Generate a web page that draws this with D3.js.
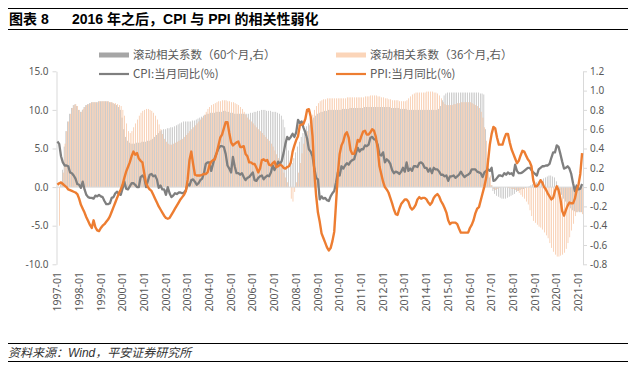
<!DOCTYPE html>
<html>
<head>
<meta charset="utf-8">
<script src="https://cdn.jsdelivr.net/npm/d3@7"></script>
<style>
  body { margin: 0; background: #fff; }
  svg { display: block; }
</style>
</head>
<body>
<div id="chart"></div>
<script>
// monthly series, 1997-01 .. 2021-03
var startYear = 1997;

var cpi = [
  5.9, 5.6, 4.0, 3.2, 2.8, 2.8, 2.7, 1.9, 1.8, 1.5, 1.1, 0.4,
  0.3, -0.1, 0.7, -0.3, -1.0, -1.3, -1.4, -1.4, -1.5, -1.1, -1.2, -1.0,
  -1.2, -1.3, -1.8, -2.2, -2.2, -2.1, -1.4, -1.3, -0.8, -0.6, -0.9, -1.0,
  -0.2, 0.7, -0.2, -0.3, 0.1, 0.5, 0.5, 0.3, 0.0, 0.0, 1.3, 1.5,
  1.2, 0.0, 0.8, 1.6, 1.7, 1.4, 1.5, 1.0, -0.1, 0.2, -0.3, -0.3,
  -1.0, 0.0, -0.8, -1.3, -1.1, -0.8, -0.9, -0.7, -0.7, -0.8, -0.7, -0.4,
  0.4, 0.2, 0.9, 1.0, 0.7, 0.3, 0.5, 0.9, 1.1, 1.8, 3.0, 3.2,
  3.2, 2.1, 3.0, 3.8, 4.4, 5.0, 5.3, 5.3, 5.2, 4.3, 2.8, 2.4,
  1.9, 3.9, 2.7, 1.8, 1.8, 1.6, 1.8, 1.3, 0.9, 1.2, 1.3, 1.6,
  1.9, 0.9, 0.8, 1.2, 1.4, 1.5, 1.0, 1.3, 1.5, 1.4, 1.9, 2.8,
  2.2, 2.7, 3.3, 3.0, 3.4, 4.4, 5.6, 6.5, 6.2, 6.5, 6.9, 6.5,
  7.1, 8.7, 8.3, 8.5, 7.7, 7.1, 6.3, 4.9, 4.6, 4.0, 2.4, 1.2,
  1.0, -1.6, -1.2, -1.5, -1.4, -1.7, -1.8, -1.2, -0.8, -0.5, 0.6, 1.9,
  1.5, 2.7, 2.4, 2.8, 3.1, 2.9, 3.3, 3.5, 3.6, 4.4, 5.1, 4.6,
  4.9, 4.9, 5.4, 5.3, 5.5, 6.4, 6.5, 6.2, 6.1, 5.5, 4.2, 4.1,
  4.5, 3.2, 3.6, 3.4, 3.0, 2.2, 1.8, 2.0, 1.9, 1.7, 2.0, 2.5,
  2.0, 3.2, 2.1, 2.4, 2.1, 2.7, 2.7, 2.6, 3.1, 3.2, 3.0, 2.5,
  2.5, 2.0, 2.4, 1.8, 2.5, 2.3, 2.3, 2.0, 1.6, 1.6, 1.4, 1.5,
  0.8, 1.4, 1.4, 1.5, 1.2, 1.4, 1.6, 2.0, 1.6, 1.3, 1.5, 1.6,
  1.8, 2.3, 2.3, 2.3, 2.0, 1.9, 1.8, 1.3, 1.9, 2.1, 2.3, 2.1,
  2.5, 0.8, 0.9, 1.2, 1.5, 1.5, 1.4, 1.8, 1.6, 1.9, 1.7, 1.8,
  1.5, 2.9, 2.1, 1.8, 1.8, 1.9, 2.1, 2.3, 2.5, 2.5, 2.2, 1.9,
  1.7, 1.5, 2.3, 2.5, 2.7, 2.7, 2.8, 2.8, 3.0, 3.8, 4.5, 4.5,
  5.4, 5.2, 4.3, 3.3, 2.4, 2.5, 2.7, 2.4, 1.7, 0.5, -0.5, 0.2,
  -0.3, -0.2, 0.4
];

var ppi = [
  0.3, 0.5, 0.6, 0.4, 0.2, 0.0, -0.3, -0.4, -0.5, -0.6, -0.7, -0.9,
  -1.5, -2.3, -2.8, -3.3, -3.9, -4.4, -4.9, -5.3, -4.3, -5.2, -5.6, -5.7,
  -5.3, -5.0, -4.8, -4.5, -4.2, -3.8, -3.2, -2.6, -2.0, -1.4, -0.8, -0.3,
  0.3, 1.2, 2.0, 2.6, 3.2, 4.0, 4.6, 4.2, 4.4, 3.7, 3.4, 3.2,
  1.8, 0.5, 0.0, -0.3, -0.5, -1.0, -1.5, -2.0, -2.5, -2.9, -3.3, -3.7,
  -4.0, -4.1, -4.0, -3.6, -3.2, -2.8, -2.4, -2.0, -1.6, -1.3, -1.0, -0.5,
  1.0, 3.5, 4.6, 3.0, 1.6, 1.5, 1.5, 1.5, 1.6, 1.7, 1.7, 1.9,
  2.8, 3.3, 3.5, 3.6, 4.4, 5.4, 6.4, 6.8, 7.6, 8.4, 8.4, 7.0,
  5.8, 5.4, 5.6, 5.8, 5.9, 5.2, 5.2, 5.3, 4.3, 4.0, 3.2, 3.2,
  3.0, 3.0, 2.5, 1.9, 2.4, 3.5, 3.6, 3.4, 3.5, 2.9, 2.8, 3.1,
  3.3, 2.6, 2.7, 2.9, 2.8, 2.5, 2.4, 2.6, 2.7, 3.2, 4.6, 5.4,
  6.1, 6.6, 8.0, 8.1, 8.2, 8.8, 10.0, 10.1, 9.1, 6.6, 2.0, -1.1,
  -3.3, -4.5, -6.0, -6.6, -7.2, -7.8, -8.2, -7.9, -7.0, -5.8, -2.1, 1.7,
  4.3, 5.4, 5.9, 6.8, 7.1, 6.4, 4.8, 4.3, 4.3, 5.0, 6.1, 5.9,
  6.6, 7.2, 7.3, 6.8, 6.8, 7.1, 7.5, 7.3, 6.5, 5.0, 2.7, 1.7,
  0.7, 0.0, -0.3, -0.7, -1.4, -2.1, -2.9, -3.5, -3.6, -2.8, -2.2, -1.9,
  -1.6, -1.6, -1.9, -2.6, -2.9, -2.7, -2.3, -1.6, -1.3, -1.5, -1.4, -1.4,
  -1.6, -2.0, -2.3, -2.0, -1.4, -1.1, -0.9, -1.2, -1.8, -2.2, -2.7, -3.3,
  -4.3, -4.8, -4.6, -4.6, -4.6, -4.8, -5.4, -5.9, -5.9, -5.9, -5.9, -5.9,
  -5.3, -4.9, -4.3, -3.4, -2.8, -2.6, -1.7, -0.8, 0.1, 1.2, 3.3, 5.5,
  6.9, 7.8, 7.6, 6.4, 5.5, 5.5, 5.5, 6.3, 6.9, 6.9, 5.8, 4.9,
  4.3, 3.7, 3.1, 3.4, 4.1, 4.7, 4.6, 4.1, 3.6, 3.3, 2.7, 0.9,
  0.1, 0.1, 0.4, 0.9, 0.6, 0.0, -0.3, -0.8, -1.2, -1.6, -1.4, -0.5,
  0.1, -0.4, -1.5, -3.1, -3.7, -3.0, -2.4, -2.0, -2.1, -2.1, -1.5, -0.4,
  0.3, 1.7, 4.4
];

// rolling correlation, 60 months (right axis)
var corr60 = [
  0.00, 0.00, 0.05, 0.18, 0.42, 0.58, 0.68, 0.76, 0.82, 0.85, 0.86, 0.84,
  0.80, 0.78, 0.80, 0.83, 0.85, 0.86, 0.87, 0.88, 0.88, 0.88, 0.88, 0.89,
  0.89, 0.89, 0.89, 0.89, 0.89, 0.88, 0.88, 0.87, 0.86, 0.85, 0.83, 0.80,
  0.72, 0.60, 0.52, 0.48, 0.46, 0.45, 0.45, 0.45, 0.46, 0.46, 0.46, 0.47,
  0.47, 0.47, 0.48, 0.48, 0.49, 0.50, 0.52, 0.54, 0.56, 0.58, 0.59, 0.60,
  0.60, 0.61, 0.61, 0.62, 0.62, 0.63, 0.64, 0.65, 0.66, 0.67, 0.68, 0.68,
  0.68, 0.68, 0.68, 0.69, 0.69, 0.70, 0.71, 0.72, 0.73, 0.74, 0.75, 0.76,
  0.76, 0.77, 0.77, 0.77, 0.78, 0.78, 0.78, 0.78, 0.79, 0.79, 0.78, 0.78,
  0.77, 0.77, 0.76, 0.76, 0.76, 0.76, 0.76, 0.76, 0.76, 0.76, 0.76, 0.77,
  0.77, 0.78, 0.78, 0.79, 0.79, 0.80, 0.80, 0.80, 0.79, 0.79, 0.79, 0.78,
  0.78, 0.78, 0.77, 0.76, 0.74, 0.70, 0.62, 0.50, 0.38, 0.28, 0.25, 0.30,
  0.36, 0.42, 0.47, 0.52, 0.56, 0.60, 0.63, 0.66, 0.68, 0.70, 0.72, 0.74,
  0.76, 0.77, 0.78, 0.78, 0.79, 0.79, 0.80, 0.80, 0.80, 0.80, 0.80, 0.80,
  0.80, 0.80, 0.81, 0.81, 0.81, 0.81, 0.82, 0.82, 0.82, 0.82, 0.82, 0.82,
  0.82, 0.82, 0.83, 0.83, 0.83, 0.83, 0.83, 0.83, 0.83, 0.83, 0.83, 0.83,
  0.83, 0.83, 0.83, 0.83, 0.83, 0.82, 0.82, 0.82, 0.82, 0.82, 0.81, 0.81,
  0.81, 0.81, 0.80, 0.80, 0.80, 0.80, 0.80, 0.80, 0.80, 0.80, 0.80, 0.80,
  0.80, 0.80, 0.80, 0.80, 0.80, 0.80, 0.80, 0.81, 0.84, 0.90, 0.95, 0.97,
  0.98, 0.98, 0.98, 0.98, 0.98, 0.98, 0.98, 0.98, 0.98, 0.98, 0.98, 0.98,
  0.98, 0.98, 0.98, 0.98, 0.98, 0.98, 0.97, 0.97, 0.96, 0.60, 0.30, 0.10,
  0.02, -0.04, -0.07, -0.09, -0.10, -0.11, -0.12, -0.12, -0.12, -0.11, -0.10, -0.09,
  -0.08, -0.07, -0.05, -0.04, -0.03, -0.02, -0.02, -0.01, 0.00, 0.01, 0.02, 0.03,
  0.04, 0.05, 0.06, 0.07, 0.08, 0.09, 0.10, 0.11, 0.12, 0.12, 0.11, 0.10,
  0.06, 0.02, -0.03, -0.08, -0.12, -0.15, -0.18, -0.20, -0.22, -0.24, -0.25, -0.26,
  -0.26, -0.26, -0.26
];

// rolling correlation, 36 months (right axis)
var corr36 = [
  0.00, -0.40, 0.05, 0.15, 0.45, 0.58, 0.68, 0.76, 0.82, 0.85, 0.86, 0.84,
  0.80, 0.78, 0.81, 0.83, 0.85, 0.86, 0.87, 0.88, 0.88, 0.88, 0.88, 0.89,
  0.89, 0.89, 0.89, 0.89, 0.89, 0.88, 0.88, 0.87, 0.87, 0.86, 0.85, 0.84,
  0.80, 0.74, 0.66, 0.58, 0.56, 0.58, 0.62, 0.66, 0.70, 0.74, 0.77, 0.79,
  0.80, 0.81, 0.81, 0.80, 0.79, 0.77, 0.74, 0.70, 0.65, 0.60, 0.55, 0.50,
  0.47, 0.45, 0.44, 0.44, 0.45, 0.46, 0.47, 0.48, 0.49, 0.50, 0.52, 0.54,
  0.56, 0.58, 0.60, 0.62, 0.64, 0.66, 0.68, 0.70, 0.72, 0.75, 0.78, 0.81,
  0.83, 0.85, 0.86, 0.87, 0.88, 0.89, 0.89, 0.90, 0.90, 0.90, 0.89, 0.89,
  0.88, 0.88, 0.87, 0.86, 0.85, 0.83, 0.81, 0.78, 0.75, 0.72, 0.70, 0.68,
  0.66, 0.64, 0.62, 0.60, 0.58, 0.56, 0.54, 0.52, 0.50, 0.48, 0.45, 0.42,
  0.38, 0.34, 0.30, 0.25, 0.20, 0.15, 0.10, 0.05, 0.00, -0.12, -0.15, -0.05,
  0.05, 0.15, 0.25, 0.35, 0.45, 0.52, 0.58, 0.64, 0.70, 0.75, 0.80, 0.84,
  0.87, 0.89, 0.90, 0.91, 0.91, 0.92, 0.92, 0.92, 0.92, 0.92, 0.92, 0.92,
  0.92, 0.92, 0.92, 0.92, 0.93, 0.93, 0.93, 0.93, 0.93, 0.93, 0.93, 0.93,
  0.93, 0.93, 0.94, 0.94, 0.94, 0.95, 0.95, 0.95, 0.95, 0.94, 0.94, 0.93,
  0.93, 0.92, 0.92, 0.91, 0.91, 0.90, 0.90, 0.90, 0.90, 0.89, 0.89, 0.89,
  0.89, 0.90, 0.92, 0.94, 0.96, 0.97, 0.98, 0.98, 0.98, 0.98, 0.98, 0.98,
  0.99, 0.99, 0.99, 0.99, 0.98, 0.98, 0.97, 0.95, 0.92, 0.88, 0.86, 0.85,
  0.85, 0.85, 0.85, 0.86, 0.86, 0.87, 0.87, 0.88, 0.88, 0.88, 0.88, 0.88,
  0.88, 0.87, 0.86, 0.85, 0.84, 0.82, 0.78, 0.72, 0.62, 0.48, 0.30, 0.12,
  0.02, -0.02, -0.03, -0.02, -0.01, 0.00, 0.00, 0.00, 0.00, -0.01, -0.01, -0.02,
  -0.02, -0.03, -0.04, -0.06, -0.08, -0.10, -0.12, -0.15, -0.18, -0.24, -0.30, -0.35,
  -0.37, -0.39, -0.41, -0.42, -0.44, -0.47, -0.50, -0.53, -0.58, -0.63, -0.67, -0.70,
  -0.72, -0.72, -0.71, -0.70, -0.68, -0.64, -0.58, -0.52, -0.45, -0.38, -0.30, -0.26,
  -0.25, -0.26, -0.28
];

var leftTicks = [-10, -5, 0, 5, 10, 15];
var rightTicks = [-0.8, -0.6, -0.4, -0.2, 0, 0.2, 0.4, 0.6, 0.8, 1.0, 1.2];

var months = cpi.map(function(d, i) {
  var y = startYear + Math.floor(i / 12), m = i % 12 + 1;
  return y + "-" + (m < 10 ? "0" + m : m);
});
var yearLabels = months.filter(function(d) { return d.slice(5) === "01"; });

var svgWidth = 635, svgHeight = 368;
var plot = { left: 56.5, right: 583, top: 71.3, bottom: 264.3 };

var svg = d3.select("#chart").append("svg")
  .attr("width", svgWidth)
  .attr("height", svgHeight);

// title block
svg.append("line").attr("x1", 8).attr("x2", 628).attr("y1", 8.5).attr("y2", 8.5)
  .attr("stroke", "#000").attr("stroke-width", 1);
svg.append("line").attr("x1", 8).attr("x2", 628).attr("y1", 29.5).attr("y2", 29.5)
  .attr("stroke", "#000").attr("stroke-width", 1);
var title = svg.append("text")
  .attr("y", 24)
  .attr("font-family", "'Liberation Sans', 'Noto Sans CJK SC', sans-serif")
  .attr("font-size", "14px")
  .attr("font-weight", "bold")
  .attr("fill", "#000");
title.append("tspan").attr("x", 9).text("图表 8");
title.append("tspan").attr("x", 72).text("2016 年之后，CPI 与 PPI 的相关性弱化");

// scales
var x = d3.scaleBand().domain(months).range([plot.left, plot.right]).padding(0);
var yL = d3.scaleLinear().domain([-10, 15]).range([plot.bottom, plot.top]);
var yR = d3.scaleLinear().domain([-0.8, 1.2]).range([plot.bottom, plot.top]);
var cx = function(i) { return x(months[i]) + x.bandwidth() / 2; };

var fmt = function(d) { return d3.format(".1f")(d).replace("\u2212", "-"); };
var axisColor = "#d9d9d9", labelColor = "#595959";
var tickFont = "'Noto Sans', 'Liberation Sans', sans-serif";

// bars (60m gray, 36m peach) side by side inside each month
var bw = 0.55;
svg.append("g").selectAll("rect")
  .data(corr60)
  .enter()
  .append("rect")
  .attr("x", function(d, i) { return x(months[i]) + 0.1; })
  .attr("width", bw)
  .attr("y", function(d) { return yR(Math.max(0, d)); })
  .attr("height", function(d) { return Math.abs(yR(d) - yR(0)); })
  .attr("fill", "#a6a6a6");

svg.append("g").selectAll("rect")
  .data(corr36)
  .enter()
  .append("rect")
  .attr("x", function(d, i) { return x(months[i]) + 1.0; })
  .attr("width", bw)
  .attr("y", function(d) { return yR(Math.max(0, d)); })
  .attr("height", function(d) { return Math.abs(yR(d) - yR(0)); })
  .attr("fill", "#f4b183");

// zero line
svg.append("line")
  .attr("x1", plot.left).attr("x2", plot.right)
  .attr("y1", yL(0)).attr("y2", yL(0))
  .attr("stroke", axisColor).attr("stroke-width", 1);

// left axis
var leftAxis = d3.axisLeft(yL).tickValues(leftTicks).tickFormat(fmt).tickSize(4).tickSizeOuter(0).tickPadding(4);
var gL = svg.append("g").attr("transform", "translate(" + plot.left + ",0)").call(leftAxis);

// right axis
var rightAxis = d3.axisRight(yR).tickValues(rightTicks).tickFormat(fmt).tickSize(4).tickSizeOuter(0).tickPadding(3);
var gR = svg.append("g").attr("transform", "translate(" + plot.right + ",0)").call(rightAxis);

[gL, gR].forEach(function(g) {
  g.select(".domain").attr("stroke", axisColor);
  g.selectAll(".tick line").attr("stroke", axisColor);
  g.selectAll(".tick text")
    .attr("fill", labelColor)
    .attr("font-family", tickFont)
    .attr("font-size", "10px");
});

// year labels (rotated)
svg.append("g").selectAll("text")
  .data(yearLabels)
  .enter()
  .append("text")
  .attr("transform", function(d) {
    return "translate(" + (x(d) + x.bandwidth() / 2) + ",272) rotate(-90)";
  })
  .attr("text-anchor", "end")
  .attr("dy", "0.35em")
  .attr("fill", labelColor)
  .attr("font-family", tickFont)
  .attr("font-size", "10.5px")
  .text(function(d) { return d; });

// lines
var cpiLine = d3.line().x(function(d, i) { return cx(i); }).y(function(d) { return yL(d); });
svg.append("path")
  .datum(cpi)
  .attr("d", cpiLine)
  .attr("fill", "none")
  .attr("stroke", "#7f7f7f")
  .attr("stroke-width", 2.3)
  .attr("stroke-linejoin", "round");

svg.append("path")
  .datum(ppi)
  .attr("d", cpiLine)
  .attr("fill", "none")
  .attr("stroke", "#ed7d31")
  .attr("stroke-width", 2.4)
  .attr("stroke-linejoin", "round");

// legend
var legendFont = "'Noto Sans CJK SC', sans-serif";
var legend = [
  { x: 99, y: 55, kind: "rect", color: "#a6a6a6", label: "滚动相关系数（60个月,右）" },
  { x: 336, y: 55, kind: "rect", color: "#fbd5b9", label: "滚动相关系数（36个月,右）" },
  { x: 99, y: 74, kind: "line", color: "#7f7f7f", label: "CPI:当月同比(%)" },
  { x: 336, y: 74, kind: "line", color: "#ed7d31", label: "PPI:当月同比(%)" }
];
var lg = svg.append("g").selectAll("g").data(legend).enter().append("g");
lg.filter(function(d) { return d.kind === "rect"; }).append("rect")
  .attr("x", function(d) { return d.x; })
  .attr("y", function(d) { return d.y - 2.5; })
  .attr("width", 30).attr("height", 5)
  .attr("fill", function(d) { return d.color; });
lg.filter(function(d) { return d.kind === "line"; }).append("line")
  .attr("x1", function(d) { return d.x; })
  .attr("x2", function(d) { return d.x + 30; })
  .attr("y1", function(d) { return d.y; })
  .attr("y2", function(d) { return d.y; })
  .attr("stroke", function(d) { return d.color; })
  .attr("stroke-width", 2.2);
lg.append("text")
  .attr("x", function(d) { return d.x + 34; })
  .attr("y", function(d) { return d.y; })
  .attr("dy", "0.36em")
  .attr("fill", labelColor)
  .attr("font-family", legendFont)
  .attr("font-size", "11.5px")
  .text(function(d) { return d.label; });

// source
svg.append("line").attr("x1", 8).attr("x2", 628).attr("y1", 343.5).attr("y2", 343.5)
  .attr("stroke", "#000").attr("stroke-width", 1);
svg.append("line").attr("x1", 8).attr("x2", 628).attr("y1", 361.5).attr("y2", 361.5)
  .attr("stroke", "#000").attr("stroke-width", 1);
svg.append("text")
  .attr("x", 8)
  .attr("y", 356.5)
  .attr("font-family", "'Liberation Sans', 'Noto Sans CJK SC', sans-serif")
  .attr("font-size", "12px")
  .attr("font-style", "italic")
  .attr("fill", "#333")
  .text("资料来源：Wind，平安证券研究所");
</script>
</body>
</html>
